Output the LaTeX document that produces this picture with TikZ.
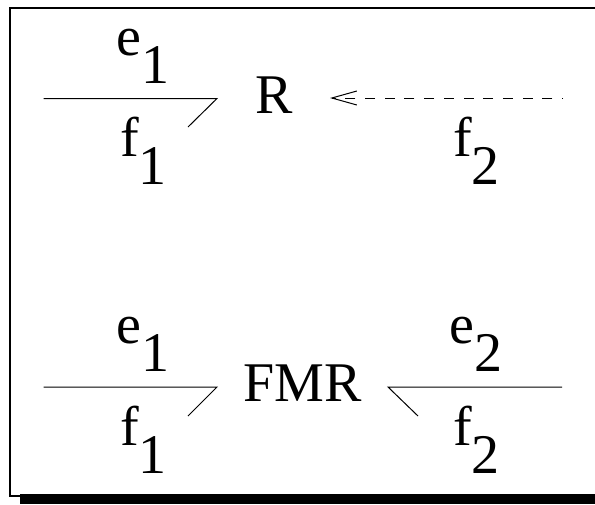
\documentclass[tikz,border=0pt]{standalone}
\usepackage{fontspec}
\setmainfont{Liberation Serif}
\usetikzlibrary{arrows.meta,calc}
\newcommand{\lowsub}[2]{#1\raisebox{-28.5pt}{#2}}

\begin{document}
\begin{tikzpicture}[
    x=1pt, y=-1pt,
    font=\fontsize{56}{60}\selectfont,
    bond/.style   = {line width=1pt},
    causal/.style = {bond, dash pattern=on 10pt off 9.7pt, dash phase=9pt},
    frame/.style  = {draw, line width=2pt},
    lbl/.style    = {inner sep=0pt, anchor=base west}
]
\useasboundingbox (0,0) rectangle (595,504);

% SHADOW AND FRAME
\draw[frame] (595,8) -- (10,8) -- (10,495.5) -- (595,495.5);
\fill (20,494) rectangle (595,504);

% UPPER ROW
\coordinate (a1) at (43.5,98.5);
\coordinate (a2) at (217,98.5);
\coordinate (a3) at (188,127);
\draw[bond] (a1) -- (a2) -- (a3);
\node[lbl] (e1) at (116,55) {\lowsub{e}{1}};
\node[lbl] (f1) at (120,156) {\lowsub{f}{1}};
\node[lbl] (R) at (255,113) {R};
\coordinate (b1) at (563,98);
\coordinate (b2) at (330,98);
\draw[causal, -{Straight Barb[length=25pt, width=14pt]}] (b1) -- (b2);
\node[lbl] (f2) at (453,156) {\lowsub{f}{2}};

% LOWER ROW
\coordinate (c1) at (43.5,387);
\coordinate (c2) at (217,387);
\coordinate (c3) at (188,416);
\draw[bond] (c1) -- (c2) -- (c3);
\node[lbl] (e1b) at (116,343) {\lowsub{e}{1}};
\node[lbl] (f1b) at (120,445) {\lowsub{f}{1}};
\node[lbl] (FMR) at (243,401) {FMR};
\coordinate (d1) at (562,387);
\coordinate (d2) at (388,387);
\coordinate (d3) at (418,416);
\draw[bond] (d1) -- (d2) -- (d3);
\node[lbl] (e2) at (449,343) {\lowsub{e}{2}};
\node[lbl] (f2b) at (453,445) {\lowsub{f}{2}};

\end{tikzpicture}
\end{document}
